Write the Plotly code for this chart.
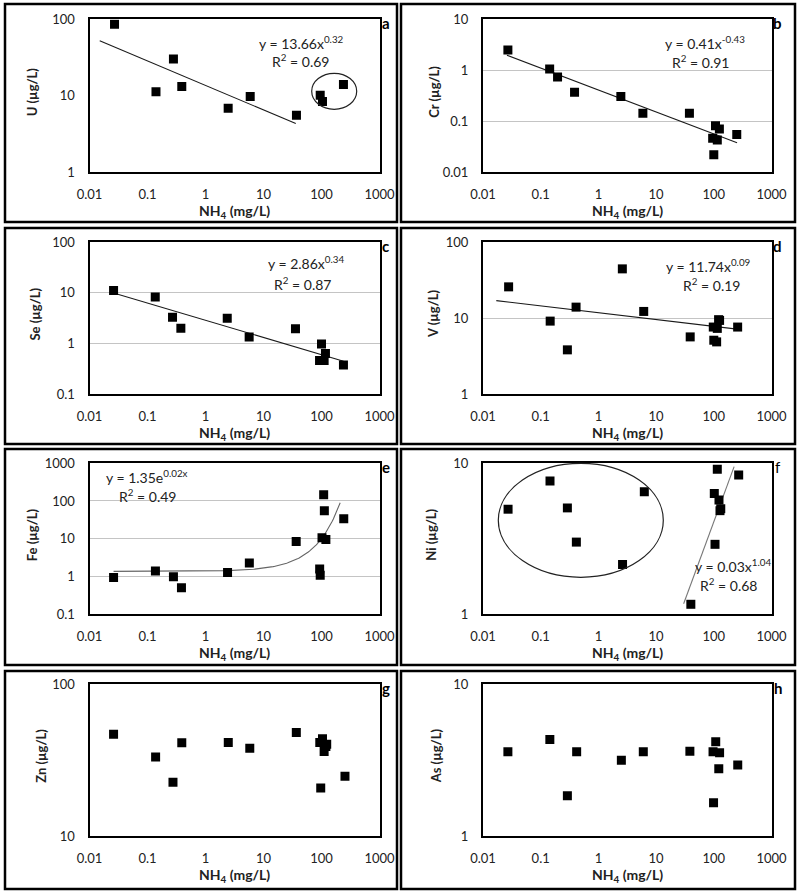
import numpy as np
import plotly.graph_objects as go

# ---------------- data ----------------
x_ticks = [0.01, 0.1, 1, 10, 100, 1000]
x_ticktext = ["0.01", "0.1", "1", "10", "100", "1000"]

nh4_a = [0.027, 0.14, 0.28, 0.39, 2.46, 5.9, 37, 95, 104, 239]
u_vals = [86, 11.3, 30.3, 13.2, 6.9, 9.8, 5.56, 10.2, 8.4, 14.1]

nh4_b = [0.027, 0.143, 0.196, 0.386, 2.45, 5.9, 37.8, 95.6, 100, 107, 115, 125, 250]
cr_vals = [2.5, 1.06, 0.74, 0.37, 0.305, 0.144, 0.144, 0.0464, 0.0222, 0.082, 0.043, 0.0708, 0.055]

nh4_c = [0.026, 0.136, 0.27, 0.376, 2.37, 5.66, 35.6, 92.5, 100, 111, 117, 239]
se_vals = [11.0, 8.2, 3.28, 1.99, 3.14, 1.34, 1.93, 0.456, 0.975, 0.456, 0.63, 0.374]

nh4_d = [0.0278, 0.146, 0.29, 0.41, 2.6, 6.1, 39, 98, 100, 112, 115, 121, 126, 259]
v_vals = [25.7, 9.1, 3.81, 13.9, 44.3, 12.2, 5.64, 7.6, 5.1, 4.85, 7.3, 9.5, 9.3, 7.6]

nh4_e = [0.026, 0.137, 0.28, 0.385, 2.4, 5.7, 36.6, 93, 95, 102, 109, 112, 119, 242]
fe_vals = [0.93, 1.39, 0.97, 0.50, 1.26, 2.26, 8.4, 1.57, 1.07, 10.5, 146, 55, 9.5, 34]

nh4_f = [0.0272, 0.145, 0.29, 0.415, 2.62, 6.25, 40, 102, 105, 115, 123, 128, 132, 270]
ni_vals = [4.96, 7.63, 5.06, 3.0, 2.13, 6.47, 1.16, 6.31, 2.9, 9.12, 5.7, 4.85, 5.0, 8.36]

nh4_g = [0.026, 0.138, 0.275, 0.39, 2.47, 5.8, 36.8, 93.4, 97, 104, 111, 119, 123, 254]
zn_vals = [47, 33.3, 22.7, 41.2, 41.4, 38, 48.2, 41.4, 20.8, 43.8, 36.1, 39, 40.4, 24.8]

nh4_h = [0.027, 0.144, 0.29, 0.42, 2.5, 6.0, 38.5, 97, 99, 108, 122, 126, 260]
as_vals = [3.6, 4.34, 1.85, 3.6, 3.17, 3.6, 3.63, 3.6, 1.66, 4.19, 2.78, 3.54, 2.94]

# trendline fits: [coefficient, exponent], and x extent of each drawn line
fit_a = [13.66, -0.32]; fit_a_x = [0.015, 36]
fit_b = [0.41, -0.43];  fit_b_x = [0.026, 253]
fit_c = [2.86, -0.34];  fit_c_x = [0.026, 240]
fit_d = [11.74, -0.09]; fit_d_x = [0.017, 300]
fit_e = [1.35, 0.02];   fit_e_x = [0.026, 210]   # exponential y = a*e^(b*x)
fit_f = [0.034, 1.04];  fit_f_x = [30, 225]

# ---------------- layout geometry (pixels) ----------------
W, H = 800, 894
col_x = [(89.5, 379.5), (483.0, 771.5)]
row_y = [(19.3, 172.3), (242.0, 394.0), (463.3, 614.0), (684.3, 836.3)]
box_x = [(5, 397), (401, 795)]
box_y = [(4, 222), (228, 444), (449, 665), (671, 889)]

FONT = "Lato, 'Open Sans', sans-serif"


def px(x):
    return x / W


def py(y):
    return 1 - y / H


def power_line(fit, xr):
    xs = np.logspace(np.log10(xr[0]), np.log10(xr[1]), 60)
    return xs, fit[0] * xs ** fit[1]


def exp_line(fit, xr):
    xs = np.logspace(np.log10(xr[0]), np.log10(xr[1]), 200)
    return xs, fit[0] * np.exp(fit[1] * xs)


panels = [
    dict(letter="a", x=nh4_a, y=u_vals, yt="U (µg/L)", yr=(0, 2), grid=False, ytx=58,
         trend=power_line(fit_a, fit_a_x), tcol="#1a1a1a",
         eq=["y = 13.66x<sup>0.32</sup>", "R<sup>2</sup> = 0.69"], eqpos=[(301, 42), (300, 60)],
         ell=(311.7, 73.3, 356.7, 109.3)),
    dict(letter="b", x=nh4_b, y=cr_vals, yt="Cr (µg/L)", yr=(-2, 1), grid=True, ytx=49,
         trend=power_line(fit_b, fit_b_x), tcol="#1a1a1a",
         eq=["y = 0.41x<sup>-0.43</sup>", "R<sup>2</sup> = 0.91"], eqpos=[(705, 42), (700, 61)]),
    dict(letter="c", x=nh4_c, y=se_vals, yt="Se (µg/L)", yr=(-1, 2), grid=True, ytx=55,
         trend=power_line(fit_c, fit_c_x), tcol="#1a1a1a",
         eq=["y = 2.86x<sup>0.34</sup>", "R<sup>2</sup> = 0.87"], eqpos=[(306, 262), (302, 283)]),
    dict(letter="d", x=nh4_d, y=v_vals, yt="V (µg/L)", yr=(0, 2), grid=True, ytx=50,
         trend=power_line(fit_d, fit_d_x), tcol="#1a1a1a",
         eq=["y = 11.74x<sup>0.09</sup>", "R<sup>2</sup> = 0.19"], eqpos=[(708, 265), (711, 284)]),
    dict(letter="e", x=nh4_e, y=fe_vals, yt="Fe (µg/L)", yr=(-1, 3), grid=True, ytx=58,
         trend=exp_line(fit_e, fit_e_x), tcol="#666666",
         eq=["y = 1.35e<sup>0.02x</sup>", "R<sup>2</sup> = 0.49"], eqpos=[(147, 476), (147, 495)]),
    dict(letter="f", x=nh4_f, y=ni_vals, yt="Ni (µg/L)", yr=(0, 1), grid=False, ytx=52,
         trend=power_line(fit_f, fit_f_x), tcol="#777777",
         eq=["y = 0.03x<sup>1.04</sup>", "R<sup>2</sup> = 0.68"], eqpos=[(733, 565), (728, 584)],
         ell=(498.3, 463.3, 663.3, 577.3), lbold=False),
    dict(letter="g", x=nh4_g, y=zn_vals, yt="Zn (µg/L)", yr=(1, 2), grid=False, ytx=48),
    dict(letter="h", x=nh4_h, y=as_vals, yt="As (µg/L)", yr=(0, 1), grid=False, ytx=47),
]

fig = go.Figure()
layout = {}
shapes = []
annotations = []

for i, p in enumerate(panels):
    r, c = divmod(i, 2)
    n = "" if i == 0 else str(i + 1)
    x0, x1 = col_x[c]
    y0, y1 = row_y[r]

    if "trend" in p:
        tx, ty = p["trend"]
        fig.add_trace(go.Scatter(x=tx, y=ty, mode="lines",
                                 line=dict(color=p["tcol"], width=1.1),
                                 xaxis="x" + n, yaxis="y" + n,
                                 showlegend=False, hoverinfo="skip"))
    fig.add_trace(go.Scatter(x=p["x"], y=p["y"], mode="markers",
                             marker=dict(symbol="square", size=9, color="black"),
                             xaxis="x" + n, yaxis="y" + n,
                             showlegend=False, hoverinfo="skip"))

    ylo, yhi = p["yr"]
    yvals = [10 ** k for k in range(ylo, yhi + 1)]
    ytext = [("%g" % v) for v in yvals]

    layout["xaxis" + n] = dict(
        domain=[px(x0), px(x1)], anchor="y" + n, type="log", range=[-2, 3],
        tickvals=x_ticks, ticktext=x_ticktext, showgrid=False, zeroline=False,
        showline=True, mirror=True, linecolor="black", linewidth=2, ticks="",
        tickfont=dict(family=FONT, size=13, color="#222"), ticklabelstandoff=9,
        automargin=False, fixedrange=True)
    layout["yaxis" + n] = dict(
        domain=[py(y1), py(y0)], anchor="x" + n, type="log", range=[ylo, yhi],
        tickvals=yvals, ticktext=ytext, showgrid=p["grid"], gridcolor="#c4c4c4",
        gridwidth=1, zeroline=False,
        showline=True, mirror=True, linecolor="black", linewidth=2, ticks="",
        tickfont=dict(family=FONT, size=13, color="#222"), ticklabelstandoff=10,
        automargin=False, fixedrange=True)

    # panel outer box
    bx0, bx1 = box_x[c]
    by0, by1 = box_y[r]
    shapes.append(dict(type="rect", xref="paper", yref="paper",
                       x0=px(bx0), x1=px(bx1), y0=py(by1), y1=py(by0),
                       line=dict(color="black", width=2.5)))

    # axis titles
    annotations.append(dict(xref="paper", yref="paper", x=px((x0 + x1) / 2), y=py(y1 + 39),
                            text="<b>NH<sub>4</sub> (mg/L)</b>", showarrow=False,
                            font=dict(family=FONT, size=14, color="#222"),
                            xanchor="center", yanchor="middle"))
    annotations.append(dict(xref="paper", yref="paper", x=px(x0 - p["ytx"]), y=py((y0 + y1) / 2 - 4),
                            text="<b>%s</b>" % p["yt"], showarrow=False, textangle=-90,
                            font=dict(family=FONT, size=13, color="#222"),
                            xanchor="center", yanchor="middle"))
    # panel letter
    lt = p["letter"] if p.get("lbold") is False else "<b>%s</b>" % p["letter"]
    annotations.append(dict(xref="paper", yref="paper", x=px(x1 + 6), y=py(y0 + 4),
                            text=lt, showarrow=False,
                            font=dict(family=FONT, size=15, color="black"),
                            xanchor="center", yanchor="middle"))
    # equation text
    if "eq" in p:
        for txt, (ex, ey) in zip(p["eq"], p["eqpos"]):
            annotations.append(dict(xref="paper", yref="paper", x=px(ex), y=py(ey),
                                    text=txt, showarrow=False,
                                    font=dict(family=FONT, size=14, color="#222"),
                                    xanchor="center", yanchor="middle"))
    if "ell" in p:
        ex0, ey0, ex1, ey1 = p["ell"]
        shapes.append(dict(type="circle", xref="paper", yref="paper",
                           x0=px(ex0), x1=px(ex1), y0=py(ey1), y1=py(ey0),
                           line=dict(color="#222", width=1.2)))

layout.update(dict(width=W, height=H, margin=dict(l=0, r=0, t=0, b=0, autoexpand=False),
                   paper_bgcolor="white", plot_bgcolor="white",
                   shapes=shapes, annotations=annotations, showlegend=False))
fig.update_layout(**layout)
fig.write_html("out.html", config={"displayModeBar": False, "staticPlot": True},
               post_script="document.body.style.margin='0';document.body.style.padding='0';"
                           "document.body.style.overflow='hidden';")
